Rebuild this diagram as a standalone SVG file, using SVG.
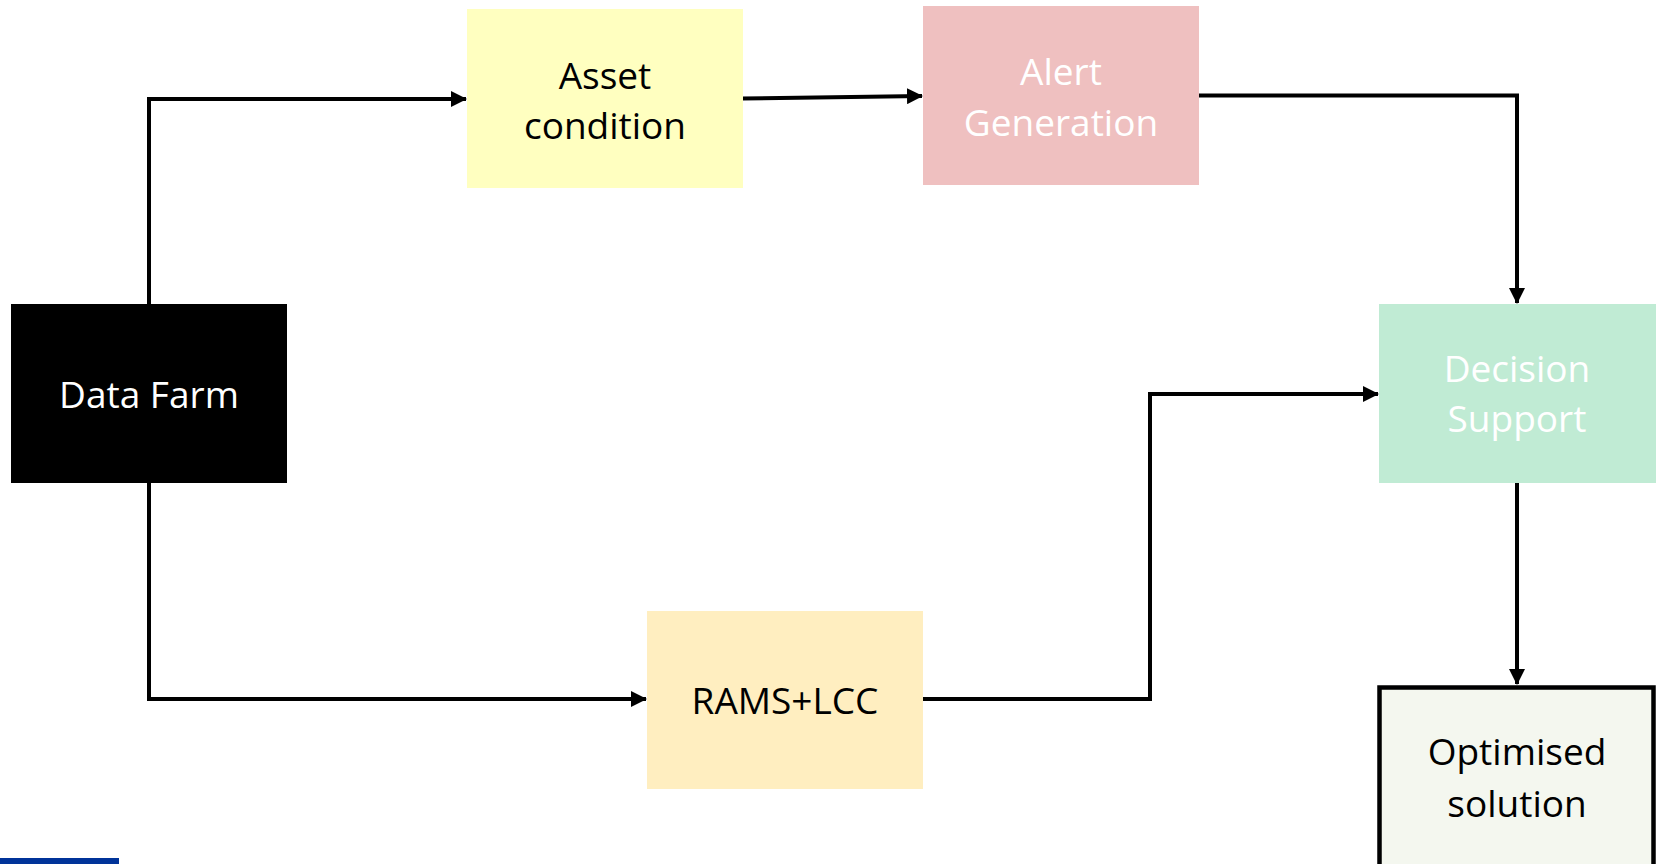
<svg xmlns="http://www.w3.org/2000/svg" width="1656" height="864" viewBox="0 0 1656 864">
<style>
  .lbl { font-family: "Open Sans", "Noto Sans", sans-serif; font-size: 37px; text-anchor: middle; }
  .dark { fill: #000000; }
  .light { fill: #FFFFFF; }
  .conn { fill: none; stroke: #000000; stroke-width: 4; marker-end: url(#arrow); }
</style>
<defs>
  <marker id="arrow" markerUnits="userSpaceOnUse" markerWidth="16" markerHeight="16" refX="15" refY="8" orient="auto">
    <path d="M0,0 L16,8 L0,16 z" fill="#000000"/>
  </marker>
</defs>
<rect x="0" y="0" width="1656" height="864" fill="#FFFFFF"/>
<g id="connectors">
  <polyline class="conn" points="149,304 149,99 466,99"/>
  <polyline class="conn" points="742,98.5 922,96"/>
  <polyline class="conn" points="1199,95.5 1517,95.5 1517,303"/>
  <polyline class="conn" points="149,483 149,699 646,699"/>
  <polyline class="conn" points="923,699 1150,699 1150,394 1378,394"/>
  <polyline class="conn" points="1517,483 1517,684"/>
</g>
<g id="data-farm">
  <rect x="11" y="304" width="276" height="179" fill="#000000"/>
  <text class="lbl light" x="149" y="408">Data Farm</text>
</g>
<g id="asset-condition">
  <rect x="467" y="9" width="276" height="179" fill="#FFFFC0"/>
  <text class="lbl dark" x="605" y="89">Asset</text>
  <text class="lbl dark" x="605" y="139">condition</text>
</g>
<g id="alert-generation">
  <rect x="923" y="6" width="276" height="179" fill="#EFC0C0"/>
  <text class="lbl light" x="1061" y="85">Alert</text>
  <text class="lbl light" x="1061" y="136">Generation</text>
</g>
<g id="decision-support">
  <rect x="1379" y="304" width="277" height="179" fill="#C0EBD4"/>
  <text class="lbl light" x="1517" y="382">Decision</text>
  <text class="lbl light" x="1517" y="432">Support</text>
</g>
<g id="rams-lcc">
  <rect x="647" y="611" width="276" height="178" fill="#FFEEC0"/>
  <text class="lbl dark" x="785" y="714">RAMS+LCC</text>
</g>
<g id="optimised-solution">
  <rect x="1379.5" y="687.5" width="274" height="220" fill="#F4F7EF" stroke="#000000" stroke-width="4.5"/>
  <text class="lbl dark" x="1517" y="765">Optimised</text>
  <text class="lbl dark" x="1517" y="817">solution</text>
</g>
<rect x="0" y="858" width="119" height="6" fill="#003399"/>
</svg>
